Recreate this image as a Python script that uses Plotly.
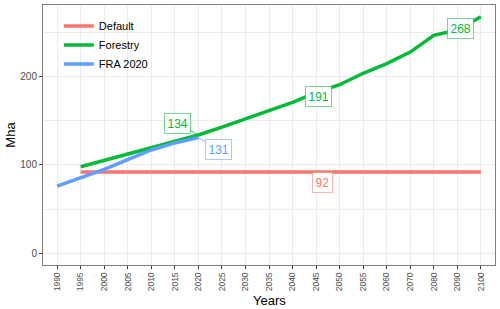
import plotly.graph_objects as go

years = ["1990", "1995", "2000", "2005", "2010", "2015", "2020", "2025", "2030", "2035",
         "2040", "2045", "2050", "2055", "2060", "2070", "2080", "2090", "2100"]

default_years = years[1:]
default_vals = [92] * len(default_years)

forestry_years = years[1:]
forestry_vals = [98, 105, 112, 119, 126, 134, 143, 152, 162, 171, 182, 191, 204, 215, 228, 247, 253, 268]

fra_years = ["1990", "1995", "2000", "2005", "2010", "2015", "2020"]
fra_vals = [76, 85, 95, 106, 117, 125, 131]

y_ticks = [0, 100, 200]

C_DEF = "#F8766D"
C_FOR = "#00BA38"
C_FRA = "#619CFF"
FONT = "Liberation Sans, Arial, sans-serif"

fig = go.Figure()
fig.add_trace(go.Scatter(x=default_years, y=default_vals, mode="lines", name="Default",
                         line=dict(color=C_DEF, width=3.5)))
fig.add_trace(go.Scatter(x=forestry_years, y=forestry_vals, mode="lines", name="Forestry",
                         line=dict(color=C_FOR, width=3.5)))
fig.add_trace(go.Scatter(x=fra_years, y=fra_vals, mode="lines", name="FRA 2020",
                         line=dict(color=C_FRA, width=3.5)))

annots = []

def label(x, y, color, border, ax=0, ay=0, arrow=False, xs=0, ys=0):
    d = dict(x=x, y=y, xref="x", yref="y", text=str(y),
             font=dict(family=FONT, size=12, color=color),
             bgcolor="white", bordercolor=border, borderwidth=1, borderpad=2.5)
    if arrow:
        d.update(showarrow=True, ax=ax, ay=ay, arrowhead=0, arrowwidth=0.8,
                 arrowcolor=color)
    else:
        d.update(showarrow=False, xshift=xs, yshift=ys)
    annots.append(d)

label(years.index("2020"), forestry_vals[5], C_FOR, "rgba(0,186,56,0.55)", ax=-21, ay=-12, arrow=True)
label(years.index("2020"), fra_vals[6], C_FRA, "rgba(97,156,255,0.55)", ax=20, ay=12, arrow=True)
label(years.index("2050"), forestry_vals[11], C_FOR, "rgba(0,186,56,0.55)", xs=-21, ys=-12)
label(years.index("2100"), forestry_vals[17], C_FOR, "rgba(0,186,56,0.55)", xs=-20, ys=-12)
label(years.index("2045"), default_vals[10], C_DEF, "rgba(248,118,109,0.55)", xs=6, ys=-10)

annots.append(dict(text="Years", xref="paper", yref="paper", x=0.5, y=-0.135,
                   xanchor="center", yanchor="middle", showarrow=False,
                   font=dict(family=FONT, size=13, color="black")))

fig.update_layout(
    width=500, height=309,
    margin=dict(l=43, r=5, t=5, b=44),
    paper_bgcolor="white", plot_bgcolor="white",
    font=dict(family=FONT, color="#4D4D4D"),
    annotations=annots,
    legend=dict(x=0.035, y=0.975, xanchor="left", yanchor="top",
                bgcolor="rgba(0,0,0,0)", font=dict(family=FONT, size=11, color="black"),
                itemwidth=30, tracegroupgap=0),
    xaxis=dict(type="category", categoryorder="array", categoryarray=years,
               range=[-0.6, 18.6], tickangle=-90,
               tickfont=dict(family=FONT, size=8.5, color="#4D4D4D"),
               ticks="outside", ticklen=3, tickcolor="#333333",
               showgrid=True, gridcolor="#EBEBEB", gridwidth=1,
               showline=True, linecolor="#7F7F7F", mirror=True, zeroline=False),
    yaxis=dict(range=[-13.4, 281.4], tickvals=y_ticks,
               tickfont=dict(family=FONT, size=10, color="#4D4D4D"),
               ticks="outside", ticklen=3, tickcolor="#333333",
               showgrid=True, gridcolor="#EBEBEB", gridwidth=1,
               minor=dict(tickvals=[50, 150, 250], showgrid=True, gridcolor="#EBEBEB", gridwidth=0.6),
               showline=True, linecolor="#7F7F7F", mirror=True, zeroline=False,
               title=dict(text="Mha", font=dict(family=FONT, size=13, color="black"), standoff=1)),
)

fig.write_html("out.html", config={"displayModeBar": False},
               post_script="document.body.style.margin='0';")
